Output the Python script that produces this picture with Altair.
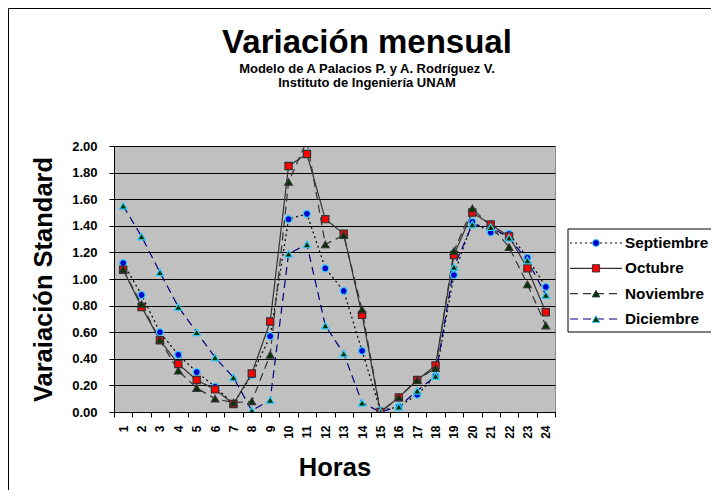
import altair as alt
import pandas as pd

# ---------------- data ----------------
horas = [1, 2, 3, 4, 5, 6, 7, 8, 9, 10, 11, 12, 13, 14, 15, 16, 17, 18, 19, 20, 21, 22, 23, 24]
series = ["Septiembre", "Octubre", "Noviembre", "Diciembre"]
septiembre = [1.12, 0.88, 0.60, 0.43, 0.30, 0.19, 0.06, 0.28, 0.57, 1.45, 1.49, 1.08,
              0.91, 0.46, 0.01, 0.04, 0.13, 0.27, 1.03, 1.43, 1.35, 1.34, 1.16, 0.94]
octubre = [1.07, 0.79, 0.54, 0.36, 0.24, 0.17, 0.06, 0.29, 0.68, 1.85, 1.94, 1.45,
           1.34, 0.73, 0.00, 0.11, 0.24, 0.35, 1.18, 1.50, 1.41, 1.32, 1.08, 0.75]
noviembre = [1.07, 0.81, 0.54, 0.31, 0.18, 0.10, 0.07, 0.08, 0.43, 1.73, 2.04, 1.26,
             1.33, 0.77, 0.00, 0.11, 0.24, 0.33, 1.21, 1.53, 1.40, 1.24, 0.96, 0.65]
diciembre = [1.55, 1.32, 1.05, 0.79, 0.60, 0.41, 0.26, 0.01, 0.09, 1.19, 1.26, 0.65,
             0.44, 0.07, 0.00, 0.04, 0.16, 0.27, 1.09, 1.41, 1.39, 1.31, 1.14, 0.88]
y_ticks = [0.0, 0.2, 0.4, 0.6, 0.8, 1.0, 1.2, 1.4, 1.6, 1.8, 2.0]

titulo = "Variación mensual"
subtitulo1 = "Modelo de A Palacios P. y A. Rodríguez V."
subtitulo2 = "Instituto de Ingeniería UNAM"
titulo_x = "Horas"
titulo_y = "Varaiación Standard"

valores = [septiembre, octubre, noviembre, diciembre]
rows = []
for s, vals in zip(series, valores):
    for h, v in zip(horas, vals):
        rows.append({"serie": s, "hora": h, "valor": v})
df = pd.DataFrame(rows)
df_leg = pd.DataFrame({"serie": series})
one = pd.DataFrame({"a": [0]})

# ---------------- styles ----------------
FONT = "Liberation Sans"
line_color = alt.Color("serie:N", scale=alt.Scale(domain=series,
                       range=["#000000", "#333333", "#333333", "#000080"]), legend=None)
dash = alt.StrokeDash("serie:N", scale=alt.Scale(domain=series,
                      range=[[2, 3], [1, 0], [8, 5], [8, 5]]), legend=None)
fill = alt.Fill("serie:N", scale=alt.Scale(domain=series,
                range=["#0000CC", "#FF0000", "#003300", "#003300"]), legend=None)
stroke = alt.Stroke("serie:N", scale=alt.Scale(domain=series,
                    range=["#33CCFF", "#333333", "#333333", "#33CCFF"]), legend=None)
shape = alt.Shape("serie:N", scale=alt.Scale(domain=series,
                  range=["circle", "square", "triangle-up", "triangle-up"]), legend=None)
size = alt.Size("serie:N", scale=alt.Scale(domain=series,
                range=[48, 60, 65, 38]), legend=None)

x_enc = alt.X("hora:O", sort=horas,
              scale=alt.Scale(type="band", paddingInner=0, paddingOuter=0),
              axis=alt.Axis(title=titulo_x, titleFontSize=25.5, titleFontWeight="bold",
                            titleX=220.5, titleY=63, titleBaseline="alphabetic",
                            titleAlign="center", titleColor="black",
                            labelAngle=270, labelFontSize=12, labelFontWeight="bold",
                            labelColor="black", labelPadding=8, tickBand="extent",
                            tickSize=5, tickColor="black", domainColor="black",
                            grid=False))
y_enc = alt.Y("valor:Q", scale=alt.Scale(domain=[0, 2], nice=False, zero=True),
              axis=alt.Axis(values=y_ticks, format=".2f", grid=True, gridColor="black",
                            gridWidth=1, gridOpacity=1, tickSize=5, tickColor="black",
                            domainColor="black", labelFontSize=13, labelFontWeight="bold",
                            labelColor="black", labelPadding=12,
                            title=titulo_y, titleFontSize=25.5, titleFontWeight="bold",
                            titleAngle=270, titleX=-71, titleY=133, titleAlign="center",
                            titleBaseline="middle", titleColor="black"))

base = alt.Chart(df)
lines = base.mark_line(clip=True, strokeWidth=1.2).encode(
    x=x_enc, y=y_enc, color=line_color, strokeDash=dash, detail="serie:N",
    order=alt.Order("hora:Q"))
points = base.mark_point(clip=True, filled=True, opacity=1, strokeWidth=1.2).encode(
    x=x_enc, y=y_enc, fill=fill, stroke=stroke, shape=shape, size=size)
data_layer = alt.layer(lines, points)

# ---------------- legend (custom) ----------------
leg_y = alt.Y("serie:N", sort=series,
              scale=alt.Scale(type="point", domain=series, range=[97, 173], padding=0),
              axis=None)
leg_box = alt.Chart(one).mark_rect(fill="white", stroke="black", strokeWidth=1).encode(
    x=alt.value(454), x2=alt.value(640), y=alt.value(83), y2=alt.value(186))
leg_lines = alt.Chart(df_leg).mark_rule(strokeWidth=1.2).encode(
    x=alt.value(456), x2=alt.value(508), y=leg_y, color=line_color, strokeDash=dash)
leg_points = alt.Chart(df_leg).mark_point(filled=True, opacity=1, strokeWidth=1).encode(
    x=alt.value(482), y=leg_y, fill=fill, stroke=stroke, shape=shape, size=size)
leg_text = alt.Chart(df_leg).mark_text(align="left", baseline="middle", fontSize=15.3,
                                       fontWeight="bold", font=FONT, color="black").encode(
    x=alt.value(511), y=leg_y, text="serie:N")
legend_layer = alt.layer(leg_box, leg_lines, leg_points, leg_text)

# ---------------- titles & outer border ----------------
t_main = alt.Chart(pd.DataFrame({"t": [titulo]})).mark_text(
    fontSize=33, fontWeight="bold", font=FONT, color="black", baseline="alphabetic",
    align="center").encode(text="t:N", x=alt.value(253), y=alt.value(-93))
t_sub1 = alt.Chart(pd.DataFrame({"t": [subtitulo1]})).mark_text(
    fontSize=13, fontWeight="bold", font=FONT, color="black", baseline="alphabetic",
    align="center").encode(text="t:N", x=alt.value(253), y=alt.value(-73))
t_sub2 = alt.Chart(pd.DataFrame({"t": [subtitulo2]})).mark_text(
    fontSize=13, fontWeight="bold", font=FONT, color="black", baseline="alphabetic",
    align="center").encode(text="t:N", x=alt.value(253), y=alt.value(-59))
border_top = alt.Chart(one).mark_rule(color="black", strokeWidth=1).encode(
    x=alt.value(-105.5), x2=alt.value(620), y=alt.value(-137.5))
border_left = alt.Chart(one).mark_rule(color="black", strokeWidth=1).encode(
    x=alt.value(-105.5), y=alt.value(-137.5), y2=alt.value(348))

chart = alt.layer(
    border_top, border_left, data_layer, legend_layer, t_main, t_sub1, t_sub2
).resolve_scale(y="independent").properties(
    width=441, height=266,
    autosize=alt.AutoSizeParams(type="none"),
    padding={"left": 106, "top": 138, "right": 156, "bottom": 78},
    background="white",
).configure(font=FONT).configure_view(fill="#C0C0C0", stroke="#8C8C8C", strokeWidth=1)

chart.save("out.html", embed_options={"renderer": "svg", "actions": False})
